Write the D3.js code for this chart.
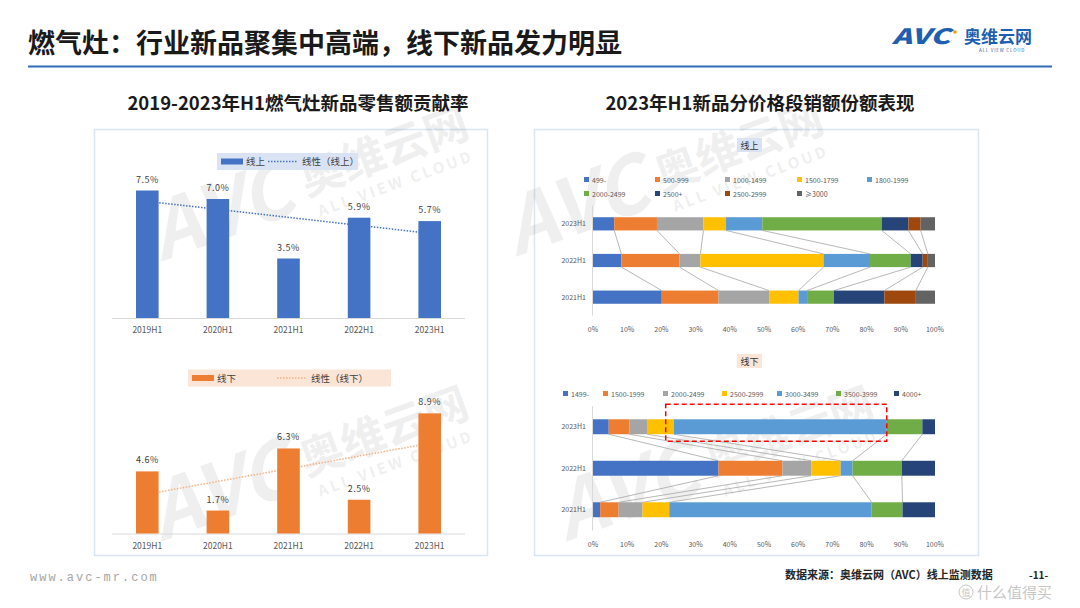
<!DOCTYPE html>
<html>
<head>
<meta charset="utf-8">
<script src="https://cdn.jsdelivr.net/npm/d3@7"></script>
<style>
  body { margin: 0; background: #fff; }
  svg { display: block; font-family: "Noto Sans CJK SC", "Noto Sans", sans-serif; }
</style>
</head>
<body>
<div id="chart"></div>
<script>
// left charts: new product retail contribution rate (%)
const years = ['2019H1', '2020H1', '2021H1', '2022H1', '2023H1'];
const onlineRate = [7.5, 7.0, 3.5, 5.9, 5.7];
const offlineRate = [4.6, 1.7, 6.3, 2.5, 8.9];

// right charts: share by price band (%)
const rowYears = ['2023H1', '2022H1', '2021H1'];
const onlineBands = ['499-', '500-999', '1000-1499', '1500-1799', '1800-1999', '2000-2499', '2500+', '2500-2999', '≥3000'];
const online2023 = [6.2, 12.5, 13.6, 6.6, 10.6, 34.9, 7.8, 3.6, 4.2];
const online2022 = [8.3, 17.0, 6.1, 36.0, 13.6, 11.9, 3.5, 1.5, 2.1];
const online2021 = [20.1, 16.6, 14.8, 8.6, 2.5, 7.8, 14.8, 9.2, 5.6];
const offlineBands = ['1499-', '1500-1999', '2000-2499', '2500-2999', '3000-3499', '3500-3999', '4000+'];
const offline2023 = [4.6, 6.0, 5.2, 7.8, 62.3, 10.4, 3.7];
const offline2022 = [36.7, 18.7, 8.4, 8.6, 3.5, 14.4, 9.7];
const offline2021 = [2.1, 5.4, 7.0, 7.8, 59.2, 9.0, 9.5];
const pctTicks = [0, 10, 20, 30, 40, 50, 60, 70, 80, 90, 100];

const palette = ['#4472c4', '#ed7d31', '#a5a5a5', '#ffc000', '#5b9bd5', '#70ad47', '#264478', '#9e480e', '#636363'];

const svg = d3.select('#chart').append('svg')
    .attr('width', 1080)
    .attr('height', 608);

// ---- header ----
svg.append('text')
    .attr('x', 28).attr('y', 53)
    .attr('font-size', 27).attr('font-weight', 'bold').attr('fill', '#1a1a1a')
    .text('燃气灶：行业新品聚集中高端，线下新品发力明显');

svg.append('line')
    .attr('x1', 28).attr('x2', 1052).attr('y1', 66.5).attr('y2', 66.5)
    .attr('stroke', '#2e6cb5').attr('stroke-width', 2.2);

// logo
const logo = svg.append('g');
logo.append('text').attr('x', 892).attr('y', 44)
    .attr('font-size', 21).attr('font-weight', 900).attr('font-style', 'italic')
    .attr('fill', '#1f5fb0').attr('textLength', 58).attr('lengthAdjust', 'spacingAndGlyphs').text('AVC');
logo.append('circle').attr('cx', 955).attr('cy', 32).attr('r', 1.8).attr('fill', '#f39c12');
logo.append('text').attr('x', 964).attr('y', 43)
    .attr('font-size', 17).attr('font-weight', 'bold').attr('fill', '#1f5fb0').text('奥维云网');
logo.append('text').attr('x', 979).attr('y', 51.5)
    .attr('font-size', 4.5).attr('fill', '#1f5fb0').attr('letter-spacing', 0.8).text('ALL VIEW CLOUD');

// ---- panels ----
svg.append('rect').attr('x', 94.5).attr('y', 129.5).attr('width', 393).attr('height', 426)
    .attr('fill', 'none').attr('stroke', '#dae6f4').attr('stroke-width', 1.5);
svg.append('rect').attr('x', 534.5).attr('y', 129.5).attr('width', 444).attr('height', 426)
    .attr('fill', 'none').attr('stroke', '#dae6f4').attr('stroke-width', 1.5);

svg.append('text').attr('x', 298).attr('y', 110).attr('text-anchor', 'middle')
    .attr('font-size', 18.5).attr('font-weight', 'bold').attr('fill', '#1a1a1a')
    .text('2019-2023年H1燃气灶新品零售额贡献率');
svg.append('text').attr('x', 760).attr('y', 110).attr('text-anchor', 'middle')
    .attr('font-size', 18.5).attr('font-weight', 'bold').attr('fill', '#1a1a1a')
    .text('2023年H1新品分价格段销额份额表现');

// ---- watermarks ----
function watermark(cx, cy) {
    const g = svg.append('g')
        .attr('transform', `translate(${cx},${cy}) rotate(-20)`)
        .attr('fill', '#000').attr('opacity', 0.06);
    g.append('text').attr('x', -8).attr('y', 20).attr('text-anchor', 'end')
        .attr('font-size', 78).attr('font-weight', 'bold').attr('font-style', 'italic').text('AVC');
    g.append('text').attr('x', 4).attr('y', 8)
        .attr('font-size', 44).attr('font-weight', 'bold').text('奥维云网');
    g.append('text').attr('x', 10).attr('y', 32)
        .attr('font-size', 15).attr('font-weight', 'bold').attr('letter-spacing', 3).text('ALL VIEW CLOUD');
}

// ---- left: bar + trend ----
function barChart(values, opts) {
    const x = d3.scaleBand().domain(years).range([112, 465]).padding(0);
    const y = d3.scaleLinear().domain([0, opts.max]).range([opts.base, opts.base - opts.max * opts.pxPer]);
    const bw = x.bandwidth() * 0.32;
    const g = svg.append('g');

    g.append('line').attr('x1', 112).attr('x2', 465)
        .attr('y1', opts.base + 0.5).attr('y2', opts.base + 0.5)
        .attr('stroke', '#d9d9d9').attr('stroke-width', 1);

    // linear trend line (least squares over category index)
    const idx = values.map((d, i) => i);
    const mx = d3.mean(idx), my = d3.mean(values);
    const slope = d3.sum(idx, i => (i - mx) * (values[i] - my)) / d3.sum(idx, i => (i - mx) ** 2);
    const fit = i => my + slope * (i - mx);
    const cx = i => x(years[i]) + x.bandwidth() / 2;
    g.append('line')
        .attr('x1', cx(0)).attr('y1', y(fit(0)))
        .attr('x2', cx(values.length - 1)).attr('y2', y(fit(values.length - 1)))
        .attr('stroke', opts.trend).attr('stroke-width', 1.5).attr('stroke-dasharray', '1.5,1.5');

    g.selectAll('rect.bar').data(values).join('rect')
        .attr('class', 'bar')
        .attr('x', (d, i) => cx(i) - bw / 2)
        .attr('y', d => y(d))
        .attr('width', bw)
        .attr('height', d => opts.base - y(d))
        .attr('fill', opts.color);

    g.selectAll('text.val').data(values).join('text')
        .attr('class', 'val')
        .attr('x', (d, i) => cx(i))
        .attr('y', d => y(d) - 8)
        .attr('text-anchor', 'middle')
        .attr('font-size', 9).attr('fill', '#404040').attr('letter-spacing', 0.5)
        .text(d => d.toFixed(1) + '%');

    g.selectAll('text.cat').data(years).join('text')
        .attr('class', 'cat')
        .attr('x', d => x(d) + x.bandwidth() / 2)
        .attr('y', opts.base + 15)
        .attr('text-anchor', 'middle')
        .attr('font-size', 8.5).attr('fill', '#595959')
        .text(d => d);

    // legend
    const L = opts.legend;
    const lg = svg.append('g');
    lg.append('rect').attr('x', L.x).attr('y', L.y).attr('width', L.w).attr('height', 17).attr('fill', L.bg);
    lg.append('rect').attr('x', L.x + 4).attr('y', L.y + 5.5).attr('width', 22).attr('height', 6).attr('fill', opts.color);
    lg.append('text').attr('x', L.x + 29).attr('y', L.y + 12).attr('font-size', 9.5).attr('fill', '#404040').text(L.name);
    lg.append('line').attr('x1', L.x + L.lineX).attr('x2', L.x + L.lineX + 29)
        .attr('y1', L.y + 8.5).attr('y2', L.y + 8.5)
        .attr('stroke', opts.trend).attr('stroke-width', 1.5).attr('stroke-dasharray', '1.5,1.5');
    lg.append('text').attr('x', L.x + L.lineX + 34).attr('y', L.y + 12).attr('font-size', 9.5).attr('fill', '#404040')
        .text(L.trendName);
}

// ---- right: 100% stacked bars with series lines ----
function stackChart(rows, bands, opts) {
    const x = d3.scaleLinear().domain([0, 100]).range([593, 935]);
    const y = d3.scaleBand().domain(rowYears).range(opts.yRange).paddingInner(0.64).paddingOuter(0.32);
    const g = svg.append('g');
    const cums = rows.map(r => [0, ...d3.cumsum(r)]);

    g.append('line').attr('x1', 592.5).attr('x2', 592.5)
        .attr('y1', opts.yRange[0]).attr('y2', opts.yRange[1])
        .attr('stroke', '#d9d9d9');

    // series lines between rows
    for (let r = 0; r < rows.length - 1; r++) {
        for (let k = 1; k < bands.length; k++) {
            g.append('line')
                .attr('x1', x(cums[r][k])).attr('y1', y(rowYears[r]) + y.bandwidth())
                .attr('x2', x(cums[r + 1][k])).attr('y2', y(rowYears[r + 1]))
                .attr('stroke', '#a6a6a6').attr('stroke-width', 0.8);
        }
    }

    rows.forEach((row, r) => {
        g.selectAll(null).data(row).join('rect')
            .attr('x', (d, k) => x(cums[r][k]))
            .attr('y', y(rowYears[r]))
            .attr('width', d => x(d) - x(0))
            .attr('height', y.bandwidth())
            .attr('fill', (d, k) => palette[k]);
    });

    g.selectAll('text.row').data(rowYears).join('text')
        .attr('class', 'row')
        .attr('x', 586).attr('y', d => y(d) + y.bandwidth() / 2 + 2.5)
        .attr('text-anchor', 'end').attr('font-size', 7).attr('fill', '#595959')
        .text(d => d);

    g.selectAll('text.tick').data(pctTicks).join('text')
        .attr('class', 'tick')
        .attr('x', d => x(d)).attr('y', opts.tickY)
        .attr('text-anchor', 'middle').attr('font-size', 7).attr('fill', '#595959')
        .text(d => d + '%');

    // title tag
    svg.append('rect').attr('x', 737).attr('y', opts.tagY).attr('width', 25).attr('height', 14).attr('fill', opts.tagBg);
    svg.append('text').attr('x', 749.5).attr('y', opts.tagY + 10.5).attr('text-anchor', 'middle')
        .attr('font-size', 9).attr('fill', '#333').text(opts.tag);

    // legend
    bands.forEach((b, k) => {
        const p = opts.legendPos(k);
        svg.append('rect').attr('x', p[0]).attr('y', p[1] - 3).attr('width', 5).attr('height', 5).attr('fill', palette[k]);
        svg.append('text').attr('x', p[0] + 8).attr('y', p[1] + 2.5)
            .attr('font-size', 7).attr('fill', '#595959').text(b);
    });
    return { x, y };
}

watermark(300, 190);
watermark(300, 470);
watermark(655, 185);
watermark(705, 470);

barChart(onlineRate, {
    max: 8, base: 318, pxPer: 17, color: '#4472c4', trend: '#4472c4',
    legend: { x: 217, y: 153, w: 141, bg: '#dae3f3', name: '线上', lineX: 51, trendName: '线性（线上）' }
});
barChart(offlineRate, {
    max: 10, base: 533.5, pxPer: 13.5, color: '#ed7d31', trend: '#f4b183',
    legend: { x: 188, y: 369.5, w: 203, bg: '#fbe5d6', name: '线下', lineX: 89, trendName: '线性（线下）' }
});

const onlineCols = [584, 655, 725, 797, 867];
stackChart([online2023, online2022, online2021], onlineBands, {
    yRange: [205.5, 315.5], tickY: 332, tag: '线上', tagY: 138, tagBg: '#dae3f3',
    legendPos: k => [onlineCols[k % 5], k < 5 ? 180 : 194]
});
const offlineCols = [563, 603, 663, 722, 777, 836, 894];
const off = stackChart([offline2023, offline2022, offline2021], offlineBands, {
    yRange: [406, 530.5], tickY: 547, tag: '线下', tagY: 354, tagBg: '#fbe5d6',
    legendPos: k => [offlineCols[k], 394]
});

// highlight box on the 3000-3499 share of 2023H1
const cum23 = d3.cumsum(offline2023);
const boxL = off.x(cum23[3] - 0.3 * offline2023[3]);
svg.append('rect')
    .attr('x', boxL)
    .attr('y', off.y('2023H1') - 15)
    .attr('width', off.x(cum23[4]) - boxL)
    .attr('height', off.y.bandwidth() + 22)
    .attr('fill', 'none').attr('stroke', '#ff0000').attr('stroke-width', 1.5).attr('stroke-dasharray', '5,3');

// ---- footer ----
svg.append('text').attr('x', 30).attr('y', 581)
    .attr('font-family', '"Liberation Mono", monospace').attr('font-size', 12).attr('fill', '#a6a6a6')
    .attr('letter-spacing', 2).text('www.avc-mr.com');
svg.append('text').attr('x', 785).attr('y', 579)
    .attr('font-size', 11).attr('font-weight', 'bold').attr('fill', '#262626')
    .text('数据来源：奥维云网（AVC）线上监测数据');
svg.append('text').attr('x', 1029).attr('y', 579)
    .attr('font-size', 10).attr('font-weight', 'bold').attr('fill', '#262626').text('-11-');
const zm = svg.append('g').attr('opacity', 0.55);
zm.append('circle').attr('cx', 966).attr('cy', 592).attr('r', 7).attr('fill', 'none').attr('stroke', '#999').attr('stroke-width', 1);
zm.append('text').attr('x', 966).attr('y', 596).attr('text-anchor', 'middle').attr('font-size', 9).attr('fill', '#999').text('值');
zm.append('text').attr('x', 977).attr('y', 598).attr('font-size', 15).attr('fill', '#999').text('什么值得买');
</script>
</body>
</html>
